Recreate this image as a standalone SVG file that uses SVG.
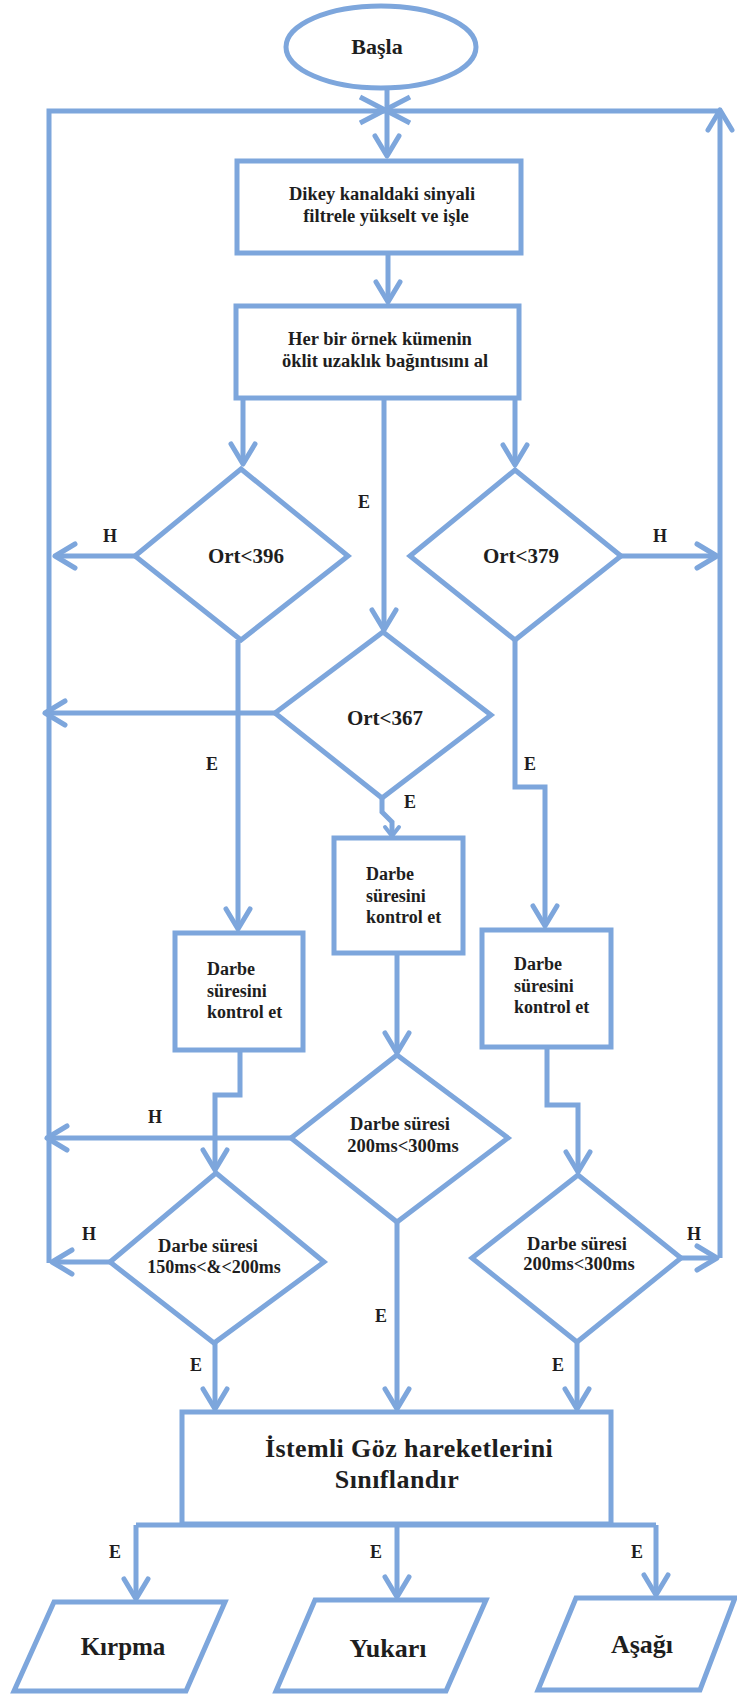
<svg xmlns="http://www.w3.org/2000/svg" width="737" height="1695" viewBox="0 0 737 1695">
  <style>
    .shape { fill: #ffffff; stroke: #7da6dc; stroke-width: 5; stroke-linejoin: miter; }
    .line { fill: none; stroke: #7da6dc; stroke-width: 5; stroke-linejoin: miter; }
    .arr { marker-end: url(#ah); }
    text { font-family: "Liberation Serif", "Times New Roman", serif; font-weight: bold; fill: #1e1e1e; }
    .c { text-anchor: middle; }
    .s18 { font-size: 18px; }
    .s19 { font-size: 18.5px; }
    .s21 { font-size: 21px; }
    .lbl { font-size: 18px; text-anchor: middle; }
  </style>
  <defs>
    <marker id="ah" viewBox="-26 -16 30 32" refX="0" refY="0" markerWidth="30" markerHeight="32" markerUnits="userSpaceOnUse" orient="auto" overflow="visible">
      <path d="M-20,-12 L0,0 L-20,12" fill="none" stroke="#7da6dc" stroke-width="5" stroke-linecap="round" stroke-linejoin="round"/>
    </marker>
    <marker id="ahs" viewBox="-12 -10 14 20" refX="0" refY="0" markerWidth="14" markerHeight="20" markerUnits="userSpaceOnUse" orient="auto" overflow="visible">
      <path d="M-9,-7 L0,0 L-9,7" fill="none" stroke="#7da6dc" stroke-width="4" stroke-linecap="round" stroke-linejoin="round"/>
    </marker>
  </defs>

  <!-- connectors -->
  <g id="connectors">
    <!-- start to loop junction -->
    <path class="line" d="M387,88 V111"/>
    <path class="line" d="M360,97 L410,123 M410,97 L360,123"/>
    <path class="line arr" d="M387,111 V156"/>
    <!-- return loop -->
    <path class="line" d="M49,1263 V111 H720"/>
    <path class="line arr" d="M720,1258 V110"/>
    <!-- box to box -->
    <path class="line arr" d="M388,253 V302"/>
    <!-- fan-out from box 2 -->
    <path class="line arr" d="M243,398 V464"/>
    <path class="line arr" d="M384,398 V630"/>
    <path class="line arr" d="M515,398 V465"/>
    <!-- H branches of first decisions -->
    <path class="line arr" d="M135,556 H55"/>
    <path class="line arr" d="M621,556 H717"/>
    <path class="line arr" d="M275,713 H45"/>
    <!-- E branches of first decisions -->
    <path class="line arr" d="M238,640 V929"/>
    <path class="line arr" d="M515,640 V787 H545 V926"/>
    <path class="line" d="M382,798 V812 L392,822 V836" marker-end="url(#ahs)"/>
    <!-- check boxes to duration decisions -->
    <path class="line arr" d="M397,953 V1053"/>
    <path class="line arr" d="M240,1050 V1095 H215 V1170"/>
    <path class="line arr" d="M547,1047 V1105 H578 V1172"/>
    <!-- H branches of duration decisions -->
    <path class="line arr" d="M291,1138 H47"/>
    <path class="line arr" d="M110,1262 H52"/>
    <path class="line arr" d="M681,1258 H717"/>
    <!-- E branches into classifier -->
    <path class="line arr" d="M397,1222 V1409"/>
    <path class="line arr" d="M215,1343 V1409"/>
    <path class="line arr" d="M577,1342 V1409"/>
    <!-- classifier outputs -->
    <path class="line" d="M136,1525 H656"/>
    <path class="line arr" d="M136,1525 V1599"/>
    <path class="line arr" d="M397,1525 V1597"/>
    <path class="line arr" d="M656,1525 V1595"/>

    <!-- branch labels -->
    <text class="lbl" x="364" y="508">E</text>
    <text class="lbl" x="110" y="542">H</text>
    <text class="lbl" x="660" y="542">H</text>
    <text class="lbl" x="212" y="770">E</text>
    <text class="lbl" x="530" y="770">E</text>
    <text class="lbl" x="410" y="808">E</text>
    <text class="lbl" x="155" y="1123">H</text>
    <text class="lbl" x="89" y="1240">H</text>
    <text class="lbl" x="694" y="1240">H</text>
    <text class="lbl" x="381" y="1322">E</text>
    <text class="lbl" x="196" y="1371">E</text>
    <text class="lbl" x="558" y="1371">E</text>
    <text class="lbl" x="115" y="1558">E</text>
    <text class="lbl" x="376" y="1558">E</text>
    <text class="lbl" x="637" y="1558">E</text>
  </g>

  <g id="start">
    <ellipse class="shape" cx="381" cy="47" rx="95" ry="41"/>
    <text class="c" x="377" y="54" font-size="22">Başla</text>
  </g>

  <g id="filter">
    <rect class="shape" x="237" y="161" width="284" height="92"/>
    <text class="c s19" x="382" y="200">Dikey kanaldaki sinyali</text>
    <text class="c s19" x="386" y="222">filtrele yükselt ve işle</text>
  </g>

  <g id="distance">
    <rect class="shape" x="236" y="306" width="283" height="92"/>
    <text class="c s19" x="380" y="345">Her bir örnek kümenin</text>
    <text class="c s19" x="385" y="367">öklit uzaklık bağıntısını al</text>
  </g>

  <g id="ort396">
    <polygon class="shape" points="241,469 348,556 241,640 135,556"/>
    <text class="c s21" x="246" y="563">Ort&lt;396</text>
  </g>

  <g id="ort379">
    <polygon class="shape" points="515,470 621,556 515,640 410,556"/>
    <text class="c s21" x="521" y="563">Ort&lt;379</text>
  </g>

  <g id="ort367">
    <polygon class="shape" points="383,632 491,715 382,798 275,713"/>
    <text class="c s21" x="385" y="725">Ort&lt;367</text>
  </g>

  <g id="check-mid">
    <rect class="shape" x="334" y="838" width="129" height="115"/>
    <text class="s18" x="366" y="880">Darbe</text>
    <text class="s18" x="366" y="902">süresini</text>
    <text class="s18" x="366" y="923">kontrol et</text>
  </g>

  <g id="check-left">
    <rect class="shape" x="175" y="933" width="128" height="117"/>
    <text class="s18" x="207" y="975">Darbe</text>
    <text class="s18" x="207" y="997">süresini</text>
    <text class="s18" x="207" y="1018">kontrol et</text>
  </g>

  <g id="check-right">
    <rect class="shape" x="482" y="930" width="129" height="117"/>
    <text class="s18" x="514" y="970">Darbe</text>
    <text class="s18" x="514" y="992">süresini</text>
    <text class="s18" x="514" y="1013">kontrol et</text>
  </g>

  <g id="dur-mid">
    <polygon class="shape" points="397,1055 508,1138 397,1222 291,1138"/>
    <text class="c s19" x="400" y="1130">Darbe süresi</text>
    <text class="c s19" x="403" y="1152">200ms&lt;300ms</text>
  </g>

  <g id="dur-left">
    <polygon class="shape" points="216,1173 324,1262 214,1343 110,1262"/>
    <text class="c s19" x="208" y="1252">Darbe süresi</text>
    <text class="c s18" x="214" y="1273">150ms&lt;&amp;&lt;200ms</text>
  </g>

  <g id="dur-right">
    <polygon class="shape" points="578,1175 681,1258 577,1342 472,1258"/>
    <text class="c s19" x="577" y="1250">Darbe süresi</text>
    <text class="c s19" x="579" y="1270">200ms&lt;300ms</text>
  </g>

  <g id="classify">
    <rect class="shape" x="182" y="1412" width="429" height="112"/>
    <text class="c" x="409" y="1457" font-size="26" letter-spacing="0.4">İstemli Göz hareketlerini</text>
    <text class="c" x="397" y="1488" font-size="26" letter-spacing="0.4">Sınıflandır</text>
  </g>

  <g id="out-kirpma">
    <polygon class="shape" points="54,1602 225,1602 186,1691 14,1691"/>
    <text class="c" x="123" y="1655" font-size="25">Kırpma</text>
  </g>

  <g id="out-yukari">
    <polygon class="shape" points="315,1600 486,1600 446,1691 276,1691"/>
    <text class="c" x="388" y="1657" font-size="26">Yukarı</text>
  </g>

  <g id="out-asagi">
    <polygon class="shape" points="576,1598 735,1598 700,1690 538,1690"/>
    <text class="c" x="642" y="1653" font-size="26">Aşağı</text>
  </g>
</svg>
